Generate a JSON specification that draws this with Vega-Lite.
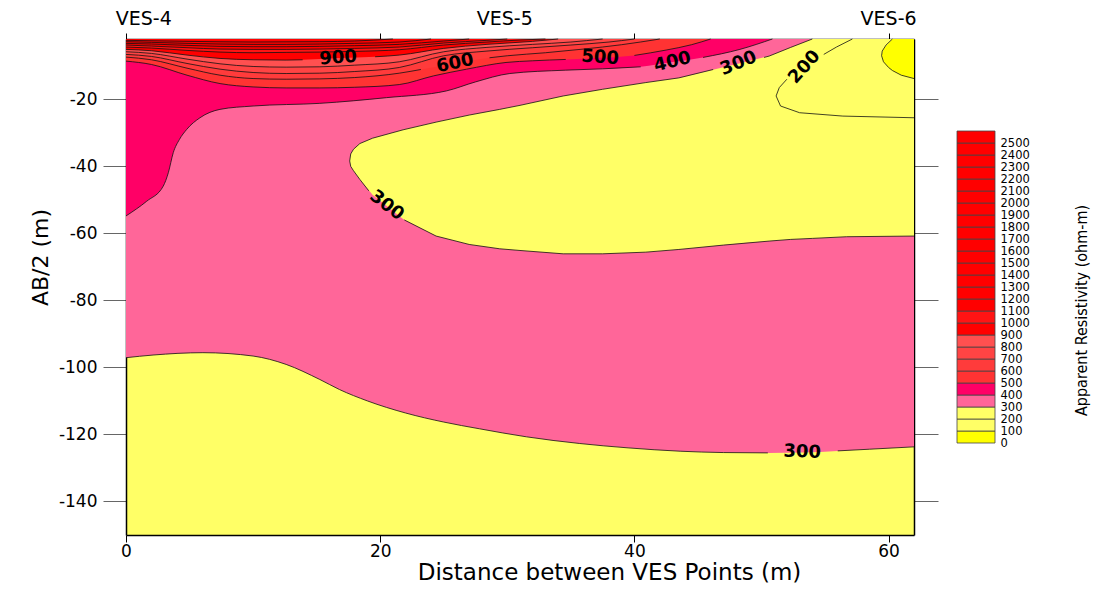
{
"$schema": "https://vega.github.io/schema/vega-lite/v6.json",
"width": 788,
"height": 496,
"autosize": {"type": "none"},
"padding": {"left": 126, "top": 39, "right": 201, "bottom": 54},
"config": {
  "view": {"stroke": null, "fill": "#FFFF66"},
  "font": "DejaVu Sans",
  "axis": {"labelColor": "black", "titleColor": "black", "domainColor": "black", "domainWidth": 1.5, "grid": false, "labelFont": "DejaVu Sans", "titleFont": "DejaVu Sans", "titleFontWeight": "normal", "zindex": 1}
},
"datasets": {
  "bands": [
    {"lev": 300, "x": 0, "bot": -97.1, "seg": "a"}, {"lev": 300, "x": 2.13, "bot": -96.3, "seg": "a"}, {"lev": 300, "x": 6.05, "bot": -95.6, "seg": "a"}, {"lev": 300, "x": 10, "bot": -96.6, "seg": "a"}, {"lev": 300, "x": 12.6, "bot": -99.1, "seg": "a"}, {"lev": 300, "x": 15.25, "bot": -103.6, "seg": "a"}, {"lev": 300, "x": 16.8, "bot": -106.6, "seg": "a"}, {"lev": 300, "x": 19, "bot": -110, "seg": "a"}, {"lev": 300, "x": 22, "bot": -113.6, "seg": "a"}, {"lev": 300, "x": 25, "bot": -116.3, "seg": "a"}, {"lev": 300, "x": 27.8, "bot": -118.3, "seg": "a"}, {"lev": 300, "x": 31.5, "bot": -120.7, "seg": "a"}, {"lev": 300, "x": 35.7, "bot": -122.7, "seg": "a"}, {"lev": 300, "x": 39.5, "bot": -124.0, "seg": "a"}, {"lev": 300, "x": 43.6, "bot": -125.0, "seg": "a"}, {"lev": 300, "x": 47, "bot": -125.4, "seg": "a"}, {"lev": 300, "x": 50.5, "bot": -125.5, "seg": "a"}, {"lev": 300, "x": 53.2, "bot": -125.4, "seg": "gap"}, {"lev": 300, "x": 56, "bot": -124.9, "seg": "b"}, {"lev": 300, "x": 58.5, "bot": -124.4, "seg": "b"}, {"lev": 300, "x": 62, "bot": -123.7, "seg": "b"},
    {"lev": 400, "x": 0, "bot": -54.8, "seg": "a"}, {"lev": 400, "x": 1.63, "bot": -50.4, "seg": "a"}, {"lev": 400, "x": 2.93, "bot": -45.9, "seg": "a"}, {"lev": 400, "x": 3.33, "bot": -41.9, "seg": "a"}, {"lev": 400, "x": 3.72, "bot": -35.9, "seg": "a"}, {"lev": 400, "x": 4.2, "bot": -32.0, "seg": "a"}, {"lev": 400, "x": 4.77, "bot": -29.0, "seg": "a"}, {"lev": 400, "x": 5.82, "bot": -25.5, "seg": "a"}, {"lev": 400, "x": 7.39, "bot": -23.0, "seg": "a"}, {"lev": 400, "x": 10, "bot": -22.0, "seg": "a"}, {"lev": 400, "x": 15.25, "bot": -21.2, "seg": "a"}, {"lev": 400, "x": 20.5, "bot": -19.5, "seg": "a"}, {"lev": 400, "x": 25.2, "bot": -17.5, "seg": "a"}, {"lev": 400, "x": 27.5, "bot": -14.8, "seg": "a"}, {"lev": 400, "x": 30.2, "bot": -12.3, "seg": "a"}, {"lev": 400, "x": 34.6, "bot": -11.3, "seg": "a"}, {"lev": 400, "x": 37.5, "bot": -10.9, "seg": "a"}, {"lev": 400, "x": 40.5, "bot": -10.3, "seg": "a"}, {"lev": 400, "x": 43, "bot": -8.9, "seg": "gap"}, {"lev": 400, "x": 45.4, "bot": -7.5, "seg": "b"}, {"lev": 400, "x": 48.3, "bot": -5.1, "seg": "b"}, {"lev": 400, "x": 50.86, "bot": -2, "seg": "b"},
    {"lev": 500, "x": 0, "bot": -8.6, "seg": "a"}, {"lev": 500, "x": 2, "bot": -9.6, "seg": "a"}, {"lev": 500, "x": 4.8, "bot": -12.8, "seg": "a"}, {"lev": 500, "x": 7.4, "bot": -15.3, "seg": "a"}, {"lev": 500, "x": 10, "bot": -16.3, "seg": "a"}, {"lev": 500, "x": 12.6, "bot": -16.6, "seg": "a"}, {"lev": 500, "x": 15.25, "bot": -16.6, "seg": "a"}, {"lev": 500, "x": 18, "bot": -16.4, "seg": "a"}, {"lev": 500, "x": 21.5, "bot": -15.6, "seg": "a"}, {"lev": 500, "x": 24.2, "bot": -13.0, "seg": "a"}, {"lev": 500, "x": 26.8, "bot": -11.0, "seg": "a"}, {"lev": 500, "x": 29.9, "bot": -9.0, "seg": "a"}, {"lev": 500, "x": 32, "bot": -8.5, "seg": "a"}, {"lev": 500, "x": 34.6, "bot": -8.1, "seg": "a"}, {"lev": 500, "x": 37.3, "bot": -7.6, "seg": "gap"}, {"lev": 500, "x": 40, "bot": -6.9, "seg": "b"}, {"lev": 500, "x": 42.5, "bot": -5.3, "seg": "b"}, {"lev": 500, "x": 44.5, "bot": -3.7, "seg": "b"}, {"lev": 500, "x": 46, "bot": -2, "seg": "b"},
    {"lev": 600, "x": 0, "bot": -7.4, "seg": "a"}, {"lev": 600, "x": 2, "bot": -8.2, "seg": "a"}, {"lev": 600, "x": 4.8, "bot": -10.7, "seg": "a"}, {"lev": 600, "x": 7.4, "bot": -12.8, "seg": "a"}, {"lev": 600, "x": 10, "bot": -13.8, "seg": "a"}, {"lev": 600, "x": 12.6, "bot": -14.0, "seg": "a"}, {"lev": 600, "x": 15.25, "bot": -13.9, "seg": "a"}, {"lev": 600, "x": 18, "bot": -13.5, "seg": "a"}, {"lev": 600, "x": 21.5, "bot": -12.2, "seg": "a"}, {"lev": 600, "x": 23.2, "bot": -11.1, "seg": "a"}, {"lev": 600, "x": 25.9, "bot": -9.3, "seg": "gap"}, {"lev": 600, "x": 28.6, "bot": -7.6, "seg": "b"}, {"lev": 600, "x": 30, "bot": -7.0, "seg": "b"}, {"lev": 600, "x": 33, "bot": -6.1, "seg": "b"}, {"lev": 600, "x": 36, "bot": -5.0, "seg": "b"}, {"lev": 600, "x": 39, "bot": -3.7, "seg": "b"}, {"lev": 600, "x": 42, "bot": -2, "seg": "b"},
    {"lev": 700, "x": 0, "bot": -6.6, "seg": "a"}, {"lev": 700, "x": 2, "bot": -7.2, "seg": "a"}, {"lev": 700, "x": 4.8, "bot": -9.3, "seg": "a"}, {"lev": 700, "x": 7.4, "bot": -11.0, "seg": "a"}, {"lev": 700, "x": 10, "bot": -12.0, "seg": "a"}, {"lev": 700, "x": 12.6, "bot": -12.3, "seg": "a"}, {"lev": 700, "x": 15.25, "bot": -12.2, "seg": "a"}, {"lev": 700, "x": 18, "bot": -11.7, "seg": "a"}, {"lev": 700, "x": 21.5, "bot": -10.5, "seg": "a"}, {"lev": 700, "x": 25, "bot": -7.0, "seg": "a"}, {"lev": 700, "x": 28.4, "bot": -5.6, "seg": "a"}, {"lev": 700, "x": 32, "bot": -4.6, "seg": "a"}, {"lev": 700, "x": 35, "bot": -3.8, "seg": "a"}, {"lev": 700, "x": 38, "bot": -2.9, "seg": "a"}, {"lev": 700, "x": 40, "bot": -2, "seg": "a"},
    {"lev": 800, "x": 0, "bot": -5.8, "seg": "a"}, {"lev": 800, "x": 2, "bot": -6.3, "seg": "a"}, {"lev": 800, "x": 4.8, "bot": -8.0, "seg": "a"}, {"lev": 800, "x": 7.4, "bot": -9.4, "seg": "a"}, {"lev": 800, "x": 10, "bot": -10.2, "seg": "a"}, {"lev": 800, "x": 12.6, "bot": -10.4, "seg": "a"}, {"lev": 800, "x": 15.25, "bot": -10.3, "seg": "a"}, {"lev": 800, "x": 18, "bot": -9.8, "seg": "a"}, {"lev": 800, "x": 21.5, "bot": -8.8, "seg": "a"}, {"lev": 800, "x": 25, "bot": -5.8, "seg": "a"}, {"lev": 800, "x": 28.4, "bot": -4.5, "seg": "a"}, {"lev": 800, "x": 32, "bot": -3.6, "seg": "a"}, {"lev": 800, "x": 35, "bot": -2.9, "seg": "a"}, {"lev": 800, "x": 37.5, "bot": -2, "seg": "a"},
    {"lev": 900, "x": 0, "bot": -5.1, "seg": "a"}, {"lev": 900, "x": 2, "bot": -5.5, "seg": "a"}, {"lev": 900, "x": 4.8, "bot": -6.8, "seg": "a"}, {"lev": 900, "x": 7.4, "bot": -7.8, "seg": "a"}, {"lev": 900, "x": 10, "bot": -8.2, "seg": "a"}, {"lev": 900, "x": 12.6, "bot": -8.3, "seg": "a"}, {"lev": 900, "x": 13.9, "bot": -8.2, "seg": "a"}, {"lev": 900, "x": 16.7, "bot": -7.7, "seg": "gap"}, {"lev": 900, "x": 19.6, "bot": -7.3, "seg": "b"}, {"lev": 900, "x": 21.5, "bot": -6.8, "seg": "b"}, {"lev": 900, "x": 25, "bot": -4.8, "seg": "b"}, {"lev": 900, "x": 28.4, "bot": -3.6, "seg": "b"}, {"lev": 900, "x": 32, "bot": -2.7, "seg": "b"}, {"lev": 900, "x": 34, "bot": -2, "seg": "b"},
    {"lev": 1000, "x": 0, "bot": -4.4, "seg": "a"}, {"lev": 1000, "x": 2, "bot": -4.7, "seg": "a"}, {"lev": 1000, "x": 4.8, "bot": -5.4, "seg": "a"}, {"lev": 1000, "x": 7.4, "bot": -5.9, "seg": "a"}, {"lev": 1000, "x": 10, "bot": -6.1, "seg": "a"}, {"lev": 1000, "x": 12.6, "bot": -6.0, "seg": "a"}, {"lev": 1000, "x": 15.25, "bot": -5.9, "seg": "a"}, {"lev": 1000, "x": 18, "bot": -5.7, "seg": "a"}, {"lev": 1000, "x": 21.5, "bot": -5.2, "seg": "a"}, {"lev": 1000, "x": 25, "bot": -3.8, "seg": "a"}, {"lev": 1000, "x": 28.4, "bot": -2.9, "seg": "a"}, {"lev": 1000, "x": 31, "bot": -2.3, "seg": "a"}, {"lev": 1000, "x": 33, "bot": -2, "seg": "a"},
    {"lev": 1100, "x": 0, "bot": -3.8, "seg": "a"}, {"lev": 1100, "x": 2, "bot": -4.1, "seg": "a"}, {"lev": 1100, "x": 4.8, "bot": -4.6, "seg": "a"}, {"lev": 1100, "x": 7.4, "bot": -5.0, "seg": "a"}, {"lev": 1100, "x": 10, "bot": -5.1, "seg": "a"}, {"lev": 1100, "x": 12.6, "bot": -5.1, "seg": "a"}, {"lev": 1100, "x": 15.25, "bot": -5.0, "seg": "a"}, {"lev": 1100, "x": 18, "bot": -4.8, "seg": "a"}, {"lev": 1100, "x": 21.5, "bot": -4.4, "seg": "a"}, {"lev": 1100, "x": 25, "bot": -3.2, "seg": "a"}, {"lev": 1100, "x": 28.4, "bot": -2.4, "seg": "a"}, {"lev": 1100, "x": 30, "bot": -2, "seg": "a"},
    {"lev": 1200, "x": 0, "bot": -3.3, "seg": "a"}, {"lev": 1200, "x": 2, "bot": -3.5, "seg": "a"}, {"lev": 1200, "x": 4.8, "bot": -3.9, "seg": "a"}, {"lev": 1200, "x": 7.4, "bot": -4.2, "seg": "a"}, {"lev": 1200, "x": 10, "bot": -4.3, "seg": "a"}, {"lev": 1200, "x": 12.6, "bot": -4.3, "seg": "a"}, {"lev": 1200, "x": 15.25, "bot": -4.2, "seg": "a"}, {"lev": 1200, "x": 18, "bot": -4.0, "seg": "a"}, {"lev": 1200, "x": 21.5, "bot": -3.6, "seg": "a"}, {"lev": 1200, "x": 25, "bot": -2.6, "seg": "a"}, {"lev": 1200, "x": 27, "bot": -2, "seg": "a"},
    {"lev": 1300, "x": 0, "bot": -2.8, "seg": "a"}, {"lev": 1300, "x": 2, "bot": -3.0, "seg": "a"}, {"lev": 1300, "x": 4.8, "bot": -3.3, "seg": "a"}, {"lev": 1300, "x": 7.4, "bot": -3.5, "seg": "a"}, {"lev": 1300, "x": 10, "bot": -3.6, "seg": "a"}, {"lev": 1300, "x": 12.6, "bot": -3.6, "seg": "a"}, {"lev": 1300, "x": 15.25, "bot": -3.5, "seg": "a"}, {"lev": 1300, "x": 18, "bot": -3.3, "seg": "a"}, {"lev": 1300, "x": 21.5, "bot": -2.9, "seg": "a"}, {"lev": 1300, "x": 24, "bot": -2, "seg": "a"},
    {"lev": 1400, "x": 0, "bot": -2.4, "seg": "a"}, {"lev": 1400, "x": 4.8, "bot": -2.7, "seg": "a"}, {"lev": 1400, "x": 10, "bot": -2.9, "seg": "a"}, {"lev": 1400, "x": 15.25, "bot": -2.8, "seg": "a"}, {"lev": 1400, "x": 18, "bot": -2.6, "seg": "a"}, {"lev": 1400, "x": 21, "bot": -2, "seg": "a"}
  ],
  "blobs": [
    {"lev": 200, "x": 17.6, "top": -38.4, "bot": -38.4}, {"lev": 200, "x": 17.68, "top": -36.3, "bot": -40.0}, {"lev": 200, "x": 17.9, "top": -34.9, "bot": -41.3}, {"lev": 200, "x": 18.4, "top": -33.2, "bot": -43.9}, {"lev": 200, "x": 19.4, "top": -31.6, "bot": -48.5}, {"lev": 200, "x": 21.8, "top": -29.1, "bot": -55.7}, {"lev": 200, "x": 24.4, "top": -26.8, "bot": -60.8}, {"lev": 200, "x": 27, "top": -24.7, "bot": -63.3}, {"lev": 200, "x": 29.4, "top": -23.0, "bot": -64.6}, {"lev": 200, "x": 31, "top": -21.8, "bot": -65.1}, {"lev": 200, "x": 34.4, "top": -19.0, "bot": -66.1}, {"lev": 200, "x": 37.5, "top": -17.0, "bot": -66.1}, {"lev": 200, "x": 40.9, "top": -15.0, "bot": -65.6}, {"lev": 200, "x": 43.5, "top": -13.6, "bot": -64.8}, {"lev": 200, "x": 47, "top": -10.4, "bot": -63.5}, {"lev": 200, "x": 48.8, "top": -8.8, "bot": -62.8}, {"lev": 200, "x": 50.6, "top": -7.1, "bot": -62.3}, {"lev": 200, "x": 52.3, "top": -4.5, "bot": -61.8}, {"lev": 200, "x": 54, "top": -2, "bot": -61.5}, {"lev": 200, "x": 56.7, "top": -2, "bot": -61.0}, {"lev": 200, "x": 62, "top": -2, "bot": -60.8},
    {"lev": 0, "x": 59.45, "top": -6.8, "bot": -6.8}, {"lev": 0, "x": 59.6, "top": -5.0, "bot": -8.8}, {"lev": 0, "x": 60.0, "top": -3.3, "bot": -10.5}, {"lev": 0, "x": 60.3, "top": -2, "bot": -11.4}, {"lev": 0, "x": 61, "top": -2, "bot": -12.8}, {"lev": 0, "x": 62, "top": -2, "bot": -13.8}
  ],
  "lines": [
    {"id": "p300a", "x": 54, "y": -2}, {"id": "p300a", "x": 52.3, "y": -4.5}, {"id": "p300a", "x": 50.6, "y": -7.1}, {"id": "p300a", "x": 50.2, "y": -7.5},
    {"id": "p300b", "x": 46.2, "y": -11.1}, {"id": "p300b", "x": 43.5, "y": -13.6}, {"id": "p300b", "x": 40.9, "y": -15.0}, {"id": "p300b", "x": 37.5, "y": -17.0}, {"id": "p300b", "x": 34.4, "y": -19.0}, {"id": "p300b", "x": 31, "y": -21.8}, {"id": "p300b", "x": 29.4, "y": -23.0}, {"id": "p300b", "x": 27, "y": -24.7}, {"id": "p300b", "x": 24.4, "y": -26.8}, {"id": "p300b", "x": 21.8, "y": -29.1}, {"id": "p300b", "x": 19.4, "y": -31.6}, {"id": "p300b", "x": 18.4, "y": -33.2}, {"id": "p300b", "x": 17.9, "y": -34.9}, {"id": "p300b", "x": 17.68, "y": -36.3}, {"id": "p300b", "x": 17.6, "y": -38.4}, {"id": "p300b", "x": 17.68, "y": -40.0}, {"id": "p300b", "x": 17.9, "y": -41.3}, {"id": "p300b", "x": 18.4, "y": -43.9}, {"id": "p300b", "x": 19.1, "y": -47.3},
    {"id": "p300c", "x": 21.9, "y": -56.0}, {"id": "p300c", "x": 24.4, "y": -60.8}, {"id": "p300c", "x": 27, "y": -63.3}, {"id": "p300c", "x": 29.4, "y": -64.6}, {"id": "p300c", "x": 31, "y": -65.1}, {"id": "p300c", "x": 34.4, "y": -66.1}, {"id": "p300c", "x": 37.5, "y": -66.1}, {"id": "p300c", "x": 40.9, "y": -65.6}, {"id": "p300c", "x": 43.5, "y": -64.8}, {"id": "p300c", "x": 47, "y": -63.5}, {"id": "p300c", "x": 50.6, "y": -62.3}, {"id": "p300c", "x": 52.3, "y": -61.8}, {"id": "p300c", "x": 54, "y": -61.5}, {"id": "p300c", "x": 56.7, "y": -61.0}, {"id": "p300c", "x": 62, "y": -60.8},
    {"id": "c200a", "x": 57.15, "y": -2}, {"id": "c200a", "x": 55.9, "y": -4.4}, {"id": "c200a", "x": 54.9, "y": -6.6},
    {"id": "c200b", "x": 52.0, "y": -14.0}, {"id": "c200b", "x": 51.4, "y": -16.5}, {"id": "c200b", "x": 51.15, "y": -19.0}, {"id": "c200b", "x": 51.5, "y": -22.0}, {"id": "c200b", "x": 53, "y": -24.0}, {"id": "c200b", "x": 56.4, "y": -25.0}, {"id": "c200b", "x": 62, "y": -25.5},
    {"id": "c100", "x": 60.3, "y": -2}, {"id": "c100", "x": 59.8, "y": -3.8}, {"id": "c100", "x": 59.5, "y": -5.6}, {"id": "c100", "x": 59.45, "y": -7}, {"id": "c100", "x": 59.6, "y": -8.8}, {"id": "c100", "x": 60.0, "y": -10.5}, {"id": "c100", "x": 60.3, "y": -11.4}, {"id": "c100", "x": 61, "y": -12.8}, {"id": "c100", "x": 62, "y": -13.8}
  ],
  "labels": [
    {"id": "900", "t": "900", "x": 16.7, "y": -7.7},
    {"id": "600", "t": "600", "x": 25.9, "y": -9.3},
    {"id": "500", "t": "500", "x": 37.3, "y": -7.6},
    {"id": "400", "t": "400", "x": 43.0, "y": -8.9},
    {"id": "300t", "t": "300", "x": 48.2, "y": -9.3},
    {"id": "200", "t": "200", "x": 53.4, "y": -10.4},
    {"id": "300m", "t": "300", "x": 20.5, "y": -51.7},
    {"id": "300b", "t": "300", "x": 53.2, "y": -125.3}
  ],
  "ves": [
    {"name": "VES-4", "x": 1.4}, {"name": "VES-5", "x": 29.8}, {"name": "VES-6", "x": 60.0}
  ],
  "leg": [
    {"lo": 0, "hi": 100}, {"lo": 100, "hi": 200}, {"lo": 200, "hi": 300}, {"lo": 300, "hi": 400}, {"lo": 400, "hi": 500}, {"lo": 500, "hi": 600}, {"lo": 600, "hi": 700}, {"lo": 700, "hi": 800}, {"lo": 800, "hi": 900}, {"lo": 900, "hi": 1000}, {"lo": 1000, "hi": 1100}, {"lo": 1100, "hi": 1200}, {"lo": 1200, "hi": 1300}, {"lo": 1300, "hi": 1400}, {"lo": 1400, "hi": 1500}, {"lo": 1500, "hi": 1600}, {"lo": 1600, "hi": 1700}, {"lo": 1700, "hi": 1800}, {"lo": 1800, "hi": 1900}, {"lo": 1900, "hi": 2000}, {"lo": 2000, "hi": 2100}, {"lo": 2100, "hi": 2200}, {"lo": 2200, "hi": 2300}, {"lo": 2300, "hi": 2400}, {"lo": 2400, "hi": 2500}, {"lo": 2500, "hi": 2600}
  ]
},
"resolve": {"scale": {"x": "independent", "y": "independent"}},
"layer": [
  {
    "layer": [
      {
        "data": {"name": "bands"},
        "transform": [{"filter": "datum.lev == 300"}],
        "mark": {"type": "area", "color": "#FF6699", "interpolate": "monotone"},
        "encoding": {
          "x": {"field": "x", "type": "quantitative", "scale": {"domain": [0, 62], "nice": false, "zero": false},
            "axis": {"orient": "bottom", "values": [0, 20, 40, 60], "tickSize": 7, "tickColor": "black", "labelFontSize": 17, "labelPadding": 1, "labelFlush": false,
              "title": "Distance between VES Points (m)", "titleFontSize": 23, "titleX": 483, "titleY": 37, "titleAlign": "center", "titleBaseline": "middle"}},
          "y": {"field": "bot", "type": "quantitative", "scale": {"domain": [-150, -2], "nice": false, "zero": false},
            "axis": {"orient": "left", "values": [-140, -120, -100, -80, -60, -40, -20], "tickSize": 23, "tickColor": "#666666", "labelFontSize": 17, "labelPadding": 6, "labelExpr": "'' + datum.value", "labelFlush": false,
              "title": "AB/2 (m)", "titleFontSize": 22, "titleX": -86, "titleY": 218, "titleAngle": 270, "titleAlign": "center", "titleBaseline": "middle"}},
          "y2": {"datum": -2}
        }
      },
      {
        "data": {"name": "blobs"},
        "transform": [{"filter": "datum.lev == 200"}],
        "mark": {"type": "area", "color": "#FFFF66", "interpolate": "linear"},
        "encoding": {
          "x": {"field": "x", "type": "quantitative", "scale": {"domain": [0, 62], "nice": false, "zero": false},
            "axis": {"orient": "top", "values": [0, 20, 40, 60], "tickSize": 6, "tickColor": "black", "labels": false, "title": null}},
          "y": {"field": "top", "type": "quantitative", "scale": {"domain": [-150, -2], "nice": false, "zero": false},
            "axis": {"orient": "right", "values": [-140, -120, -100, -80, -60, -40, -20], "tickSize": 24, "tickColor": "#666666", "labels": false, "title": null}},
          "y2": {"field": "bot"}
        }
      },
      {
        "data": {"name": "blobs"},
        "transform": [{"filter": "datum.lev == 0"}],
        "mark": {"type": "area", "color": "#FFFF00", "interpolate": "linear"},
        "encoding": {
          "x": {"field": "x", "type": "quantitative", "scale": {"domain": [0, 62], "nice": false, "zero": false}, "axis": null},
          "y": {"field": "top", "type": "quantitative", "scale": {"domain": [-150, -2], "nice": false, "zero": false}, "axis": null},
          "y2": {"field": "bot"}
        }
      },
      {
        "data": {"name": "bands"},
        "transform": [{"filter": "datum.lev == 400"}],
        "mark": {"type": "area", "color": "#FF0066", "interpolate": "monotone"},
        "encoding": {
          "x": {"field": "x", "type": "quantitative", "scale": {"domain": [0, 62], "nice": false, "zero": false}, "axis": null},
          "y": {"field": "bot", "type": "quantitative", "scale": {"domain": [-150, -2], "nice": false, "zero": false}, "axis": null},
          "y2": {"datum": -2}
        }
      },
      {
        "data": {"name": "bands"},
        "transform": [{"filter": "datum.lev == 500"}],
        "mark": {"type": "area", "color": "#FF3333", "interpolate": "monotone"},
        "encoding": {
          "x": {"field": "x", "type": "quantitative", "scale": {"domain": [0, 62], "nice": false, "zero": false}, "axis": null},
          "y": {"field": "bot", "type": "quantitative", "scale": {"domain": [-150, -2], "nice": false, "zero": false}, "axis": null},
          "y2": {"datum": -2}
        }
      },
      {
        "data": {"name": "bands"},
        "transform": [{"filter": "datum.lev == 600"}],
        "mark": {"type": "area", "color": "#FF3B3B", "interpolate": "monotone"},
        "encoding": {
          "x": {"field": "x", "type": "quantitative", "scale": {"domain": [0, 62], "nice": false, "zero": false}, "axis": null},
          "y": {"field": "bot", "type": "quantitative", "scale": {"domain": [-150, -2], "nice": false, "zero": false}, "axis": null},
          "y2": {"datum": -2}
        }
      },
      {
        "data": {"name": "bands"},
        "transform": [{"filter": "datum.lev == 700"}],
        "mark": {"type": "area", "color": "#FF4444", "interpolate": "monotone"},
        "encoding": {
          "x": {"field": "x", "type": "quantitative", "scale": {"domain": [0, 62], "nice": false, "zero": false}, "axis": null},
          "y": {"field": "bot", "type": "quantitative", "scale": {"domain": [-150, -2], "nice": false, "zero": false}, "axis": null},
          "y2": {"datum": -2}
        }
      },
      {
        "data": {"name": "bands"},
        "transform": [{"filter": "datum.lev == 800"}],
        "mark": {"type": "area", "color": "#FF5050", "interpolate": "monotone"},
        "encoding": {
          "x": {"field": "x", "type": "quantitative", "scale": {"domain": [0, 62], "nice": false, "zero": false}, "axis": null},
          "y": {"field": "bot", "type": "quantitative", "scale": {"domain": [-150, -2], "nice": false, "zero": false}, "axis": null},
          "y2": {"datum": -2}
        }
      },
      {
        "data": {"name": "bands"},
        "transform": [{"filter": "datum.lev == 900"}],
        "mark": {"type": "area", "color": "#FF0000", "interpolate": "monotone"},
        "encoding": {
          "x": {"field": "x", "type": "quantitative", "scale": {"domain": [0, 62], "nice": false, "zero": false}, "axis": null},
          "y": {"field": "bot", "type": "quantitative", "scale": {"domain": [-150, -2], "nice": false, "zero": false}, "axis": null},
          "y2": {"datum": -2}
        }
      },
      {
        "data": {"name": "bands"},
        "transform": [{"filter": "datum.lev == 1000"}],
        "mark": {"type": "area", "color": "#FF1414", "interpolate": "monotone"},
        "encoding": {
          "x": {"field": "x", "type": "quantitative", "scale": {"domain": [0, 62], "nice": false, "zero": false}, "axis": null},
          "y": {"field": "bot", "type": "quantitative", "scale": {"domain": [-150, -2], "nice": false, "zero": false}, "axis": null},
          "y2": {"datum": -2}
        }
      },
      {
        "data": {"name": "bands"},
        "transform": [{"filter": "datum.lev == 1100"}],
        "mark": {"type": "area", "color": "#FF0000", "interpolate": "monotone"},
        "encoding": {
          "x": {"field": "x", "type": "quantitative", "scale": {"domain": [0, 62], "nice": false, "zero": false}, "axis": null},
          "y": {"field": "bot", "type": "quantitative", "scale": {"domain": [-150, -2], "nice": false, "zero": false}, "axis": null},
          "y2": {"datum": -2}
        }
      },
      {
        "data": {"name": "bands"},
        "transform": [{"filter": "datum.seg != 'gap'"}],
        "mark": {"type": "line", "color": "#111111", "strokeWidth": 0.8, "interpolate": "monotone"},
        "encoding": {
          "x": {"field": "x", "type": "quantitative", "scale": {"domain": [0, 62], "nice": false, "zero": false}, "axis": null},
          "y": {"field": "bot", "type": "quantitative", "scale": {"domain": [-150, -2], "nice": false, "zero": false}, "axis": null},
          "detail": [{"field": "lev", "type": "nominal"}, {"field": "seg", "type": "nominal"}]
        }
      },
      {
        "data": {"name": "lines"},
        "mark": {"type": "line", "color": "#111111", "strokeWidth": 0.8, "interpolate": "linear"},
        "encoding": {
          "x": {"field": "x", "type": "quantitative", "scale": {"domain": [0, 62], "nice": false, "zero": false}, "axis": null},
          "y": {"field": "y", "type": "quantitative", "scale": {"domain": [-150, -2], "nice": false, "zero": false}, "axis": null},
          "detail": {"field": "id", "type": "nominal"},
          "order": {"value": null}
        }
      },
      {
        "data": {"name": "labels"},
        "mark": {"type": "text", "font": "DejaVu Sans", "fontSize": 18, "fontWeight": "bold", "color": "black", "align": "center", "baseline": "middle",
          "angle": {"expr": "datum.id == '900' ? -4 : datum.id == '600' ? -12 : datum.id == '500' ? 4 : datum.id == '400' ? -14 : datum.id == '300t' ? -22 : datum.id == '200' ? -48 : datum.id == '300m' ? 38 : 2"}},
        "encoding": {
          "x": {"field": "x", "type": "quantitative", "scale": {"domain": [0, 62], "nice": false, "zero": false}, "axis": null},
          "y": {"field": "y", "type": "quantitative", "scale": {"domain": [-150, -2], "nice": false, "zero": false}, "axis": null},
          "text": {"field": "t"}
        }
      },
      {
        "data": {"name": "ves"},
        "mark": {"type": "text", "font": "DejaVu Sans", "fontSize": 19, "color": "black", "align": "center", "baseline": "middle"},
        "encoding": {
          "x": {"field": "x", "type": "quantitative", "scale": {"domain": [0, 62], "nice": false, "zero": false}, "axis": null},
          "y": {"datum": 3.9, "type": "quantitative", "scale": {"domain": [-150, -2], "nice": false, "zero": false}, "axis": null},
          "text": {"field": "name"}
        }
      }
    ]
  },
  {
    "data": {"name": "leg"},
    "mark": {"type": "rect", "stroke": "#444444", "strokeWidth": 0.8},
    "encoding": {
      "x": {"datum": 0, "type": "quantitative", "scale": {"domain": [0, 1], "range": [831, 869], "nice": false, "zero": false}, "axis": null},
      "x2": {"datum": 1},
      "y": {"field": "lo", "type": "quantitative", "scale": {"domain": [0, 2600], "range": [404, 92], "nice": false, "zero": false},
        "axis": {"orient": "right", "offset": 81, "values": [0, 100, 200, 300, 400, 500, 600, 700, 800, 900, 1000, 1100, 1200, 1300, 1400, 1500, 1600, 1700, 1800, 1900, 2000, 2100, 2200, 2300, 2400, 2500],
          "ticks": false, "domain": false, "labelPadding": 5, "labelFontSize": 11.5, "labelBaseline": "middle", "labelExpr": "'' + datum.value", "labelFlush": false, "labelOverlap": false,
          "title": "Apparent Resistivity (ohm-m)", "titleFont": "Liberation Sans Narrow, DejaVu Sans Condensed, Liberation Sans", "titleFontSize": 16, "titleAngle": 270, "titleX": 86, "titleY": 271, "titleAlign": "center", "titleBaseline": "middle"}},
      "y2": {"field": "hi"},
      "color": {"field": "lo", "type": "quantitative",
        "scale": {"type": "threshold", "domain": [100, 200, 300, 400, 500, 600, 700, 800, 900, 1000, 1100, 1200, 1300, 1400, 1500, 1600, 1700, 1800, 1900, 2000, 2100, 2200, 2300, 2400, 2500],
          "range": ["#FFFF00", "#FFFF66", "#FFFF66", "#FF6699", "#FF0066", "#FF3333", "#FF3B3B", "#FF4444", "#FF5050", "#FF0000", "#FF1414", "#FF0000", "#FF0000", "#FF0000", "#FF0000", "#FF0000", "#FF0000", "#FF0000", "#FF0000", "#FF0000", "#FF0000", "#FF0000", "#FF0000", "#FF0000", "#FF0000", "#FF0000"]},
        "legend": null}
    }
  }
]
}
